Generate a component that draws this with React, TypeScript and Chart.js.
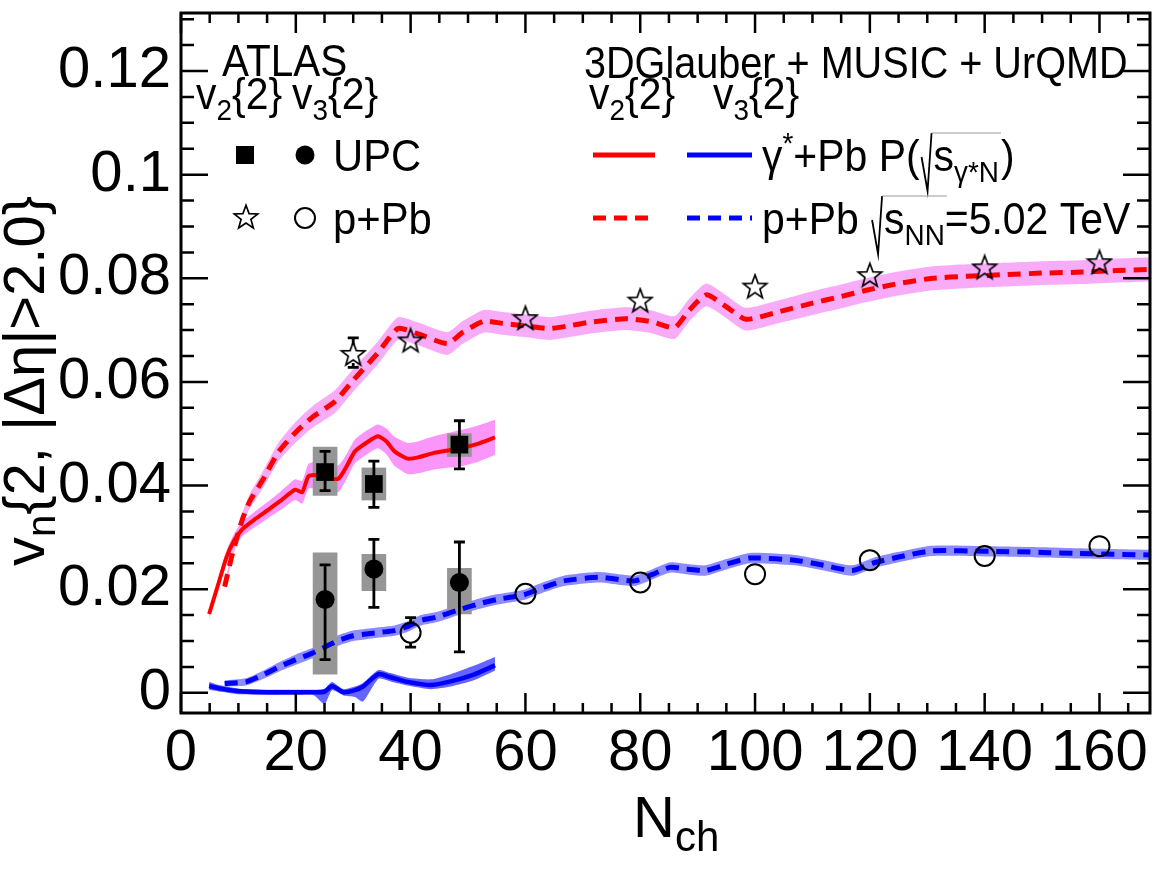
import React, { useEffect, useRef } from "react";
import { Chart, registerables } from "chart.js";
Chart.register(...registerables);

const FONT = "'Liberation Sans', Arial, Helvetica, sans-serif";

// axes
const X_MIN = 0;
const X_MAX = 168.8;
const Y_MIN = -0.0039;
const Y_MAX = 0.1312;
const X_TICKS = [0, 20, 40, 60, 80, 100, 120, 140, 160];
const X_TICK_LABELS = ["0", "20", "40", "60", "80", "100", "120", "140", "160"];
const Y_TICKS = [0, 0.02, 0.04, 0.06, 0.08, 0.1, 0.12];
const Y_TICK_LABELS = ["0", "0.02", "0.04", "0.06", "0.08", "0.1", "0.12"];

// 3DGlauber+MUSIC+UrQMD, p+Pb v2{2} (red dashed)
const PPB_V2_N = [7.6, 9, 10.7, 12, 14.2, 17, 20, 23, 26.8, 30, 34.3, 37.8, 41.2, 46.4, 49, 52.7, 56, 60.2, 64.2, 68, 71.1, 77.4, 82, 86, 88.5, 91.5, 95, 98.4, 104, 110, 115, 119.4, 125, 130.9, 137, 143.5, 150, 157, 163, 168.8];
const PPB_V2_MODEL = [0.0205, 0.027, 0.0335, 0.037, 0.041, 0.0465, 0.0503, 0.0533, 0.0562, 0.0603, 0.0656, 0.0703, 0.0693, 0.0674, 0.0695, 0.0717, 0.0713, 0.0708, 0.0703, 0.0709, 0.0715, 0.0722, 0.0716, 0.0705, 0.0738, 0.0768, 0.0745, 0.0721, 0.0735, 0.0752, 0.0765, 0.0777, 0.079, 0.08, 0.0804, 0.0807, 0.081, 0.0812, 0.0815, 0.0817];
const PPB_V2_BAND = [0.0008, 0.001, 0.0012, 0.0014, 0.0016, 0.0018, 0.002, 0.0021, 0.0022, 0.0022, 0.0022, 0.0022, 0.0022, 0.0022, 0.0022, 0.0022, 0.0022, 0.0022, 0.0022, 0.0022, 0.0022, 0.0022, 0.0022, 0.0022, 0.0022, 0.0022, 0.0022, 0.0022, 0.0022, 0.0023, 0.0023, 0.0023, 0.0023, 0.0023, 0.0023, 0.0023, 0.0023, 0.0023, 0.0023, 0.0023];

// gamma*+Pb v2{2} (red solid)
const GPB_V2_N = [4.9, 6.5, 7.9, 9.2, 10.7, 13, 15.3, 17.5, 19.9, 21.1, 22.2, 23.5, 25.1, 27.4, 29, 30.3, 32.5, 34.3, 35.8, 37.2, 39.5, 41.5, 44.1, 48.7, 51.5, 54.7];
const GPB_V2_MODEL = [0.0152, 0.021, 0.0261, 0.0293, 0.0316, 0.0336, 0.0354, 0.0372, 0.0392, 0.0387, 0.0418, 0.042, 0.0415, 0.0413, 0.044, 0.0466, 0.0484, 0.0495, 0.0485, 0.0466, 0.0452, 0.0455, 0.0463, 0.0472, 0.048, 0.0493];
const GPB_V2_BAND = [0.0009, 0.001, 0.0012, 0.0013, 0.0014, 0.0015, 0.0016, 0.0018, 0.002, 0.0022, 0.0024, 0.0026, 0.0028, 0.0026, 0.0024, 0.0023, 0.0023, 0.0023, 0.0025, 0.0028, 0.003, 0.0031, 0.0032, 0.0035, 0.0035, 0.0034];

// gamma*+Pb v3{2} (blue solid)
const GPB_V3_N = [4.9, 7, 10.2, 15, 20, 23, 25, 26.3, 28.3, 30.3, 31.7, 34.4, 36.5, 39.5, 43.5, 47, 51, 54.7];
const GPB_V3_MODEL = [0.0013, 0.0008, 0.0003, 0.0001, 0.0001, 0.0001, 0.0002, 0.0013, 0.0001, 0.0005, 0.0012, 0.0036, 0.003, 0.0021, 0.0015, 0.0022, 0.0035, 0.0053];
const GPB_V3_LO = [0.0006, 0.0002, -0.0003, -0.0004, -0.0004, -0.0004, -0.0022, 0.0005, -0.0005, -0.0008, -0.0017, 0.0027, 0.0022, 0.0014, 0.0007, 0.0012, 0.0024, 0.0043];
const GPB_V3_HI = [0.0021, 0.0014, 0.0008, 0.0006, 0.0006, 0.0006, 0.0008, 0.0021, 0.0007, 0.0012, 0.0019, 0.0044, 0.0038, 0.0029, 0.0026, 0.0036, 0.0052, 0.0069];

// p+Pb v3{2} (blue dashed)
const PPB_V3_N = [7.6, 11.3, 14, 17.1, 20, 22.8, 25, 27.4, 30, 32.6, 35, 37.2, 39.5, 41.8, 44.5, 48.1, 52, 55, 59.7, 63, 66.7, 72.8, 79, 82, 85.2, 88, 91.4, 95, 99.1, 106.9, 112, 116.9, 120.8, 125, 130.8, 140.9, 150, 156.3, 168.7];
const PPB_V3_MODEL = [0.0018, 0.0021, 0.0033, 0.005, 0.0064, 0.0076, 0.0088, 0.0101, 0.011, 0.0114, 0.0117, 0.012, 0.0128, 0.014, 0.0146, 0.0159, 0.0172, 0.018, 0.0189, 0.0203, 0.0216, 0.0223, 0.0216, 0.0228, 0.0242, 0.0239, 0.0236, 0.0248, 0.026, 0.0256, 0.0246, 0.0236, 0.0251, 0.0262, 0.0274, 0.0273, 0.0271, 0.0269, 0.0266];
const PPB_V3_BAND = [0.0006, 0.0007, 0.0008, 0.0009, 0.001, 0.001, 0.001, 0.001, 0.001, 0.001, 0.001, 0.001, 0.001, 0.001, 0.001, 0.001, 0.001, 0.001, 0.001, 0.001, 0.001, 0.001, 0.001, 0.001, 0.001, 0.001, 0.001, 0.001, 0.001, 0.001, 0.001, 0.001, 0.001, 0.001, 0.001, 0.001, 0.001, 0.001, 0.001];

// ATLAS UPC
const UPC_N = [25.1, 33.6, 48.5];
const UPC_V2 = [0.0426, 0.0403, 0.0479];
const UPC_V2_STAT_LO = [0.039, 0.0358, 0.0432];
const UPC_V2_STAT_HI = [0.0466, 0.0447, 0.0525];
const UPC_V2_SYS_LO = [0.0381, 0.0372, 0.0456];
const UPC_V2_SYS_HI = [0.0474, 0.0434, 0.05];
const UPC_V3 = [0.018, 0.0239, 0.0213];
const UPC_V3_STAT_LO = [0.0064, 0.0165, 0.0079];
const UPC_V3_STAT_HI = [0.0247, 0.0296, 0.0291];
const UPC_V3_SYS_LO = [0.0036, 0.0197, 0.0152];
const UPC_V3_SYS_HI = [0.027, 0.0267, 0.024];

// ATLAS p+Pb
const PPB_DATA_V2_N = [30, 40, 60, 80, 100, 120, 140, 160];
const PPB_DATA_V2 = [0.0654, 0.068, 0.0723, 0.0757, 0.0784, 0.0806, 0.0821, 0.0831];
const PPB_DATA_V2_ERR_N = [30];
const PPB_DATA_V2_ERR_LO = [0.0628];
const PPB_DATA_V2_ERR_HI = [0.0685];
const PPB_DATA_V3_N = [40, 60, 80, 100, 120, 140, 160];
const PPB_DATA_V3 = [0.0116, 0.0191, 0.0213, 0.0229, 0.0256, 0.0264, 0.0283];
const PPB_DATA_V3_ERR_N = [40];
const PPB_DATA_V3_ERR_LO = [0.0088];
const PPB_DATA_V3_ERR_HI = [0.0145];

const pts = (xs: number[], ys: number[]) => xs.map((x, i) => ({ x, y: ys[i] }));
const offs = (xs: number[], ys: number[], hs: number[], s: number) => xs.map((x, i) => ({ x, y: ys[i] + s * hs[i] }));

function makeStar() {
  const c = document.createElement("canvas");
  c.width = 28; c.height = 28;
  const g = c.getContext("2d")!;
  const R = 12.5, r = 5.2, cx = 14, cy = 14.8;
  g.beginPath();
  for (let i = 0; i < 10; i++) {
    const a = -Math.PI / 2 + (i * Math.PI) / 5;
    const rad = i % 2 === 0 ? R : r;
    const px = cx + rad * Math.cos(a), py = cy + rad * Math.sin(a);
    if (i === 0) g.moveTo(px, py); else g.lineTo(px, py);
  }
  g.closePath();
  g.lineWidth = 1.7; g.strokeStyle = "#000"; g.stroke();
  return c;
}

type Seg = { t: string; size: number; dy?: number };
function rich(c: CanvasRenderingContext2D, x: number, y: number, segs: Seg[], hs: number, draw = true) {
  let cx = x;
  for (const s of segs) {
    c.font = `${s.size}px ${FONT}`;
    if (draw) {
      c.save(); c.translate(cx, y + (s.dy || 0)); c.scale(hs, 1); c.fillText(s.t, 0, 0); c.restore();
    }
    cx += c.measureText(s.t).width * hs;
  }
  return cx;
}

function sqrtOver(c: CanvasRenderingContext2D, x: number, y: number, segs: Seg[], hs: number) {
  const w = rich(c, 0, 0, segs, hs, false);
  c.save();
  c.strokeStyle = "#000"; c.lineWidth = 1.8;
  c.beginPath(); c.moveTo(x, y - 14); c.lineTo(x + 6, y + 20); c.lineTo(x + 10, y - 38); c.stroke();
  c.strokeStyle = "#999"; c.lineWidth = 1.2;
  c.beginPath(); c.moveTo(x + 10, y - 38); c.lineTo(x + 14 + w, y - 38); c.stroke();
  c.restore();
  return rich(c, x + 12, y, segs, hs);
}

const errorBars = {
  id: "errorBars",
  beforeDatasetDraw(chart: any, args: any) {
    const ds = chart.data.datasets[args.index];
    if (!ds.err) return;
    const xs = chart.scales.x, ys = chart.scales.y, c = chart.ctx;
    c.save(); c.strokeStyle = "#000"; c.lineWidth = 2.8;
    ds.err.n.forEach((n: number, i: number) => {
      const px = xs.getPixelForValue(n);
      const pc = ys.getPixelForValue(ds.err.v[i]);
      const plo = ys.getPixelForValue(ds.err.lo[i]);
      const phi = ys.getPixelForValue(ds.err.hi[i]);
      const gap = ds.err.gap;
      c.beginPath();
      if (phi < pc - gap) { c.moveTo(px, pc - gap); c.lineTo(px, phi); c.moveTo(px - 5.5, phi); c.lineTo(px + 5.5, phi); }
      if (plo > pc + gap) { c.moveTo(px, pc + gap); c.lineTo(px, plo); c.moveTo(px - 5.5, plo); c.lineTo(px + 5.5, plo); }
      c.stroke();
    });
    c.restore();
  },
};

const framePlugin = {
  id: "frame",
  afterDatasetsDraw(chart: any) {
    const c = chart.ctx;
    const { left, right, top, bottom } = chart.chartArea;
    const xs = chart.scales.x, ys = chart.scales.y;
    c.save();
    c.strokeStyle = "#000";
    c.lineWidth = 2.5;
    c.beginPath();
    for (let k = 0; k * 5 <= X_MAX; k++) {
      const px = xs.getPixelForValue(k * 5);
      const len = k % 4 === 0 ? 20 : 10;
      c.moveTo(px, bottom); c.lineTo(px, bottom - len);
      c.moveTo(px, top); c.lineTo(px, top + len);
    }
    for (let k = 0; k * 0.005 <= Y_MAX; k++) {
      const py = ys.getPixelForValue(k * 0.005);
      const len = k % 4 === 0 ? 27 : 13;
      c.moveTo(left, py); c.lineTo(left + len, py);
      c.moveTo(right, py); c.lineTo(right - len, py);
    }
    c.stroke();
    c.lineWidth = 3;
    c.strokeRect(left, top, right - left, bottom - top);
    c.restore();
  },
};

const noPad = (s: any) => { s.paddingTop = 0; s.paddingBottom = 0; s.paddingLeft = 0; s.paddingRight = 0; };

export default function App() {
  const ref = useRef<HTMLCanvasElement>(null);
  useEffect(() => {
    const canvas = ref.current!;
    const star = makeStar();

    const textPlugin = {
      id: "texts",
      afterDraw(chart: any) {
        const c: CanvasRenderingContext2D = chart.ctx;
        c.save();
        c.fillStyle = "#000";
        c.textBaseline = "alphabetic";
        c.textAlign = "left";
        const HS = 0.9;
        const L = 44, S = 30;
        // left legend
        rich(c, 222, 76, [{ t: "ATLAS", size: L }], 0.92);
        let x = rich(c, 196, 109, [{ t: "v", size: L }, { t: "2", size: S, dy: 11 }, { t: "{2}", size: L }], 0.93);
        rich(c, x + 10, 109, [{ t: "v", size: L }, { t: "3", size: S, dy: 11 }, { t: "{2}", size: L }], 0.93);
        c.fillRect(236, 146, 18, 18);
        c.beginPath(); c.arc(305, 155, 9.5, 0, Math.PI * 2); c.fill();
        rich(c, 333, 171, [{ t: "UPC", size: L }], 0.95);
        c.drawImage(star, 246 - 14, 218 - 15);
        c.strokeStyle = "#000"; c.lineWidth = 2;
        c.beginPath(); c.arc(305, 218, 10, 0, Math.PI * 2); c.stroke();
        rich(c, 333, 234, [{ t: "p+Pb", size: L }], 0.95);
        // right legend
        rich(c, 584, 78, [{ t: "3DGlauber + MUSIC + UrQMD", size: L }], HS);
        rich(c, 589, 109, [{ t: "v", size: L }, { t: "2", size: S, dy: 11 }, { t: "{2}", size: L }], 0.93);
        rich(c, 713, 109, [{ t: "v", size: L }, { t: "3", size: S, dy: 11 }, { t: "{2}", size: L }], 0.93);
        c.lineWidth = 5;
        c.strokeStyle = "rgb(255,0,0)";
        c.beginPath(); c.moveTo(593, 155); c.lineTo(655, 155); c.stroke();
        c.strokeStyle = "rgb(0,0,255)";
        c.beginPath(); c.moveTo(687, 155); c.lineTo(752, 155); c.stroke();
        c.setLineDash([13, 8]);
        c.strokeStyle = "rgb(255,0,0)";
        c.beginPath(); c.moveTo(593, 218); c.lineTo(655, 218); c.stroke();
        c.strokeStyle = "rgb(0,0,255)";
        c.beginPath(); c.moveTo(687, 218); c.lineTo(752, 218); c.stroke();
        c.setLineDash([]);
        x = rich(c, 762, 171, [{ t: "γ", size: L }, { t: "*", size: S, dy: -18 }, { t: "+Pb P(", size: L }], 0.93);
        x = sqrtOver(c, x + 2, 171, [{ t: "s", size: L }, { t: "γ*N", size: S, dy: 11 }], 0.93);
        rich(c, x + 2, 171, [{ t: ")", size: L }], 0.93);
        x = rich(c, 762, 234, [{ t: "p+Pb ", size: L }], 0.93);
        x = sqrtOver(c, x + 2, 234, [{ t: "s", size: L }, { t: "NN", size: S, dy: 11 }], 0.93);
        rich(c, x, 234, [{ t: "=5.02 TeV", size: L }], 0.93);
        // axis titles
        rich(c, 633, 837, [{ t: "N", size: 58 }, { t: "ch", size: 42, dy: 14 }], 1);
        c.save();
        c.translate(44, 566);
        c.rotate(-Math.PI / 2);
        rich(c, 0, 0, [{ t: "v", size: 58 }, { t: "n", size: 40, dy: 11 }, { t: "{2, |Δη|>2.0}", size: 58 }], 1);
        c.restore();
        c.restore();
      },
    };

    const NONE = "rgba(0,0,0,0)";
    const ds: any[] = [];
    // red dashed band
    ds.push({ type: "line", data: offs(PPB_V2_N, PPB_V2_MODEL, PPB_V2_BAND, 1), borderWidth: 0, borderColor: NONE, pointRadius: 0, fill: "+1", backgroundColor: "rgb(248,172,248)", tension: 0.2 });
    ds.push({ type: "line", data: offs(PPB_V2_N, PPB_V2_MODEL, PPB_V2_BAND, -1), borderWidth: 0, borderColor: NONE, pointRadius: 0, fill: false, tension: 0.2 });
    // blue dashed band
    ds.push({ type: "line", data: offs(PPB_V3_N, PPB_V3_MODEL, PPB_V3_BAND, 1), borderWidth: 0, borderColor: NONE, pointRadius: 0, fill: "+1", backgroundColor: "rgb(140,140,255)", tension: 0.2 });
    ds.push({ type: "line", data: offs(PPB_V3_N, PPB_V3_MODEL, PPB_V3_BAND, -1), borderWidth: 0, borderColor: NONE, pointRadius: 0, fill: false, tension: 0.2 });
    // red solid band
    ds.push({ type: "line", data: offs(GPB_V2_N, GPB_V2_MODEL, GPB_V2_BAND, 1), borderWidth: 0, borderColor: NONE, pointRadius: 0, fill: "+1", backgroundColor: "rgb(250,150,250)", tension: 0.2 });
    ds.push({ type: "line", data: offs(GPB_V2_N, GPB_V2_MODEL, GPB_V2_BAND, -1), borderWidth: 0, borderColor: NONE, pointRadius: 0, fill: false, tension: 0.2 });
    // blue solid band
    ds.push({ type: "line", data: pts(GPB_V3_N, GPB_V3_HI), borderWidth: 0, borderColor: NONE, pointRadius: 0, fill: "+1", backgroundColor: "rgb(100,100,255)", tension: 0.2 });
    ds.push({ type: "line", data: pts(GPB_V3_N, GPB_V3_LO), borderWidth: 0, borderColor: NONE, pointRadius: 0, fill: false, tension: 0.2 });
    // systematic boxes
    ds.push({ type: "bar", data: UPC_N.map((n, i) => ({ x: n, y: [UPC_V2_SYS_LO[i], UPC_V2_SYS_HI[i]] })), backgroundColor: "rgb(150,150,150)", barThickness: 24, grouped: false, borderWidth: 0 });
    ds.push({ type: "bar", data: UPC_N.map((n, i) => ({ x: n, y: [UPC_V3_SYS_LO[i], UPC_V3_SYS_HI[i]] })), backgroundColor: "rgb(150,150,150)", barThickness: 24, grouped: false, borderWidth: 0 });
    // model lines
    ds.push({ type: "line", data: pts(PPB_V2_N, PPB_V2_MODEL), borderColor: "rgb(255,0,0)", borderWidth: 5, borderDash: [13, 8], pointRadius: 0, fill: false, tension: 0.2 });
    ds.push({ type: "line", data: pts(PPB_V3_N, PPB_V3_MODEL), borderColor: "rgb(0,0,255)", borderWidth: 5, borderDash: [13, 8], pointRadius: 0, fill: false, tension: 0.2 });
    ds.push({ type: "line", data: pts(GPB_V2_N, GPB_V2_MODEL), borderColor: "rgb(255,0,0)", borderWidth: 4, pointRadius: 0, fill: false, tension: 0.2 });
    ds.push({ type: "line", data: pts(GPB_V3_N, GPB_V3_MODEL), borderColor: "rgb(0,0,255)", borderWidth: 4.5, pointRadius: 0, fill: false, tension: 0.2 });
    // data markers
    ds.push({ type: "scatter", data: pts(PPB_DATA_V2_N, PPB_DATA_V2), pointStyle: star, pointRadius: 12,
      err: { n: PPB_DATA_V2_ERR_N, v: [PPB_DATA_V2[0]], lo: PPB_DATA_V2_ERR_LO, hi: PPB_DATA_V2_ERR_HI, gap: 9 } });
    ds.push({ type: "scatter", data: pts(PPB_DATA_V3_N, PPB_DATA_V3), pointStyle: "circle", pointRadius: 10, borderColor: "#000", borderWidth: 2, backgroundColor: NONE,
      err: { n: PPB_DATA_V3_ERR_N, v: [PPB_DATA_V3[0]], lo: PPB_DATA_V3_ERR_LO, hi: PPB_DATA_V3_ERR_HI, gap: 10 } });
    ds.push({ type: "scatter", data: pts(UPC_N, UPC_V2), pointStyle: "rect", pointRadius: 12.5, borderWidth: 0, backgroundColor: "#000",
      err: { n: UPC_N, v: UPC_V2, lo: UPC_V2_STAT_LO, hi: UPC_V2_STAT_HI, gap: 0 } });
    ds.push({ type: "scatter", data: pts(UPC_N, UPC_V3), pointStyle: "circle", pointRadius: 9.5, borderWidth: 0, backgroundColor: "#000",
      err: { n: UPC_N, v: UPC_V3, lo: UPC_V3_STAT_LO, hi: UPC_V3_STAT_HI, gap: 0 } });
    ds.forEach((d, i) => { d.order = ds.length - i; });

    const chart = new Chart(canvas, {
      type: "scatter",
      data: { datasets: ds },
      options: {
        animation: false,
        responsive: false,
        maintainAspectRatio: false,
        devicePixelRatio: 1,
        events: [],
        layout: { padding: { top: 9, right: 3, left: 0, bottom: 0 } },
        plugins: { legend: { display: false }, tooltip: { enabled: false } },
        scales: {
          x: {
            type: "linear", min: X_MIN, max: X_MAX, offset: false,
            grid: { display: false, drawTicks: false }, border: { display: false },
            ticks: {
              font: { family: FONT, size: 58 }, color: "#000", padding: 6, autoSkip: false, maxRotation: 0, includeBounds: false,
              callback: (v: any) => { const i = X_TICKS.indexOf(Number(v)); return i >= 0 ? X_TICK_LABELS[i] : ""; },
            },
            afterBuildTicks: (s: any) => { s.ticks = X_TICKS.map((v) => ({ value: v })); },
            afterFit: (s: any) => { s.height = 158; noPad(s); },
          },
          y: {
            type: "linear", min: Y_MIN, max: Y_MAX,
            grid: { display: false, drawTicks: false }, border: { display: false },
            ticks: {
              font: { family: FONT, size: 58 }, color: "#000", padding: 10, autoSkip: false, includeBounds: false,
              callback: (v: any) => { const i = Y_TICKS.indexOf(Number(v)); return i >= 0 ? Y_TICK_LABELS[i] : ""; },
            },
            afterBuildTicks: (s: any) => { s.ticks = Y_TICKS.map((v) => ({ value: v })); },
            afterFit: (s: any) => { s.width = 181; noPad(s); },
          },
        },
      } as any,
      plugins: [errorBars, framePlugin, textPlugin],
    });
    return () => chart.destroy();
  }, []);
  return (
    <div style={{ position: "absolute", left: 0, top: 0, width: 1163, height: 871, background: "#fff" }}>
      <canvas ref={ref} width={1163} height={871} style={{ width: 1163, height: 871, display: "block" }} />
    </div>
  );
}
